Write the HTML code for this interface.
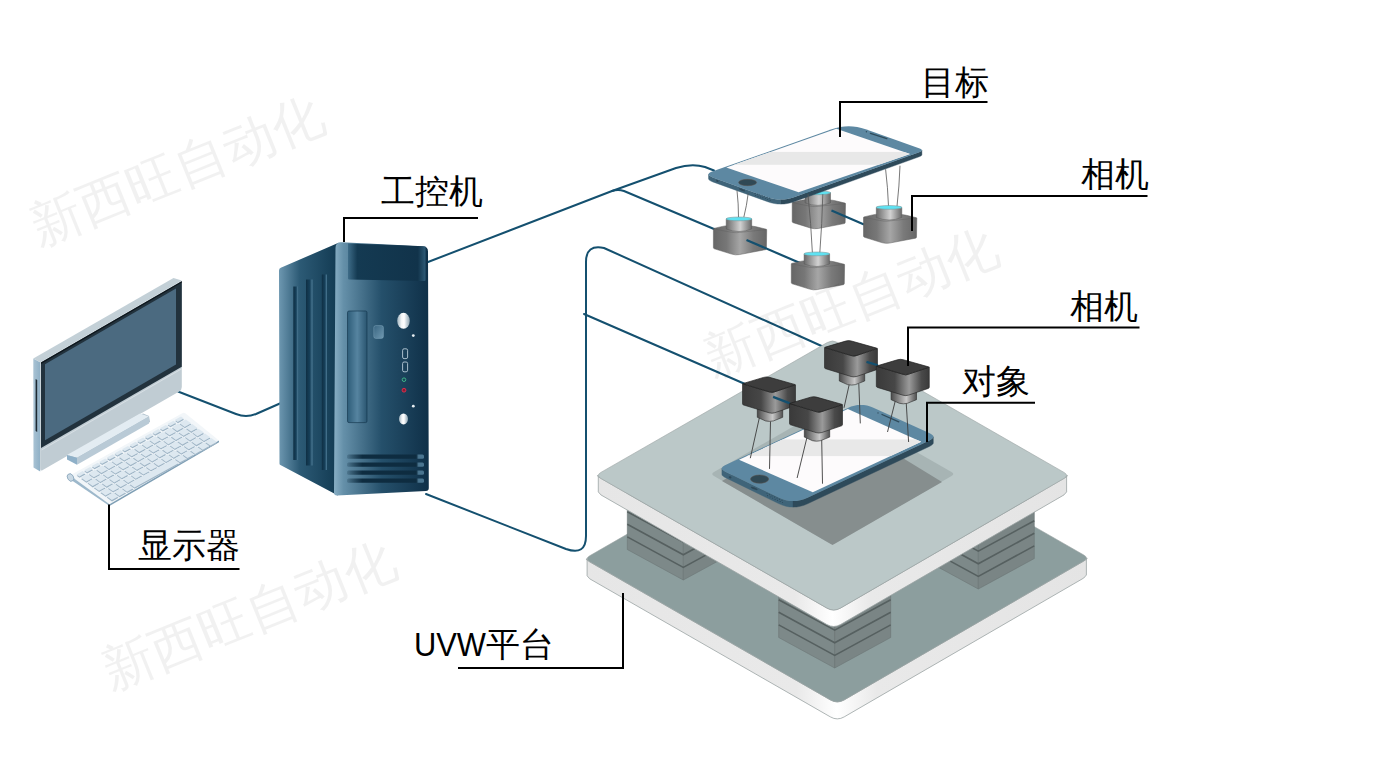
<!DOCTYPE html><html><head><meta charset="utf-8"><style>html,body{margin:0;padding:0;background:#fff;overflow:hidden;}svg{display:block}text{font-family:"Liberation Sans",sans-serif}</style></head><body><svg width="1400" height="771" viewBox="0 0 1400 771"><defs><linearGradient id="cbody" x1="0" y1="0" x2="1" y2="0"><stop offset="0" stop-color="#666"/><stop offset="0.25" stop-color="#777"/><stop offset="0.5" stop-color="#a6a6a6"/><stop offset="0.75" stop-color="#7a7a7a"/><stop offset="1" stop-color="#666"/></linearGradient>
<linearGradient id="clens" x1="0" y1="0" x2="1" y2="0"><stop offset="0" stop-color="#6a6a6a"/><stop offset="0.55" stop-color="#d2d2d2"/><stop offset="1" stop-color="#686868"/></linearGradient>
<linearGradient id="dbody" x1="0" y1="0" x2="1" y2="0"><stop offset="0" stop-color="#3a3a3a"/><stop offset="0.35" stop-color="#474747"/><stop offset="0.62" stop-color="#9a9a9a"/><stop offset="0.85" stop-color="#4a4a4a"/><stop offset="1" stop-color="#3a3a3a"/></linearGradient>
<linearGradient id="dlens" x1="0" y1="0" x2="1" y2="0"><stop offset="0" stop-color="#4a4a4a"/><stop offset="0.6" stop-color="#c8c8c8"/><stop offset="1" stop-color="#505050"/></linearGradient><linearGradient id="monside" x1="0" y1="0" x2="1" y2="0"><stop offset="0" stop-color="#a9c3d4"/><stop offset="1" stop-color="#8fb0c6"/></linearGradient><linearGradient id="tside" x1="0" y1="0" x2="1" y2="0"><stop offset="0" stop-color="#6d97b0"/><stop offset="0.35" stop-color="#2c5a75"/><stop offset="1" stop-color="#123a52"/></linearGradient>
<linearGradient id="tfront" x1="0" y1="0" x2="1" y2="0"><stop offset="0" stop-color="#88aec4"/><stop offset="0.1" stop-color="#6590a9"/><stop offset="0.5" stop-color="#25506b"/><stop offset="1" stop-color="#0f3048"/></linearGradient>
<linearGradient id="tbay" x1="0" y1="0" x2="1" y2="0"><stop offset="0" stop-color="#3e6c88"/><stop offset="0.12" stop-color="#143a52"/><stop offset="0.9" stop-color="#11334a"/><stop offset="1" stop-color="#2e5a76"/></linearGradient>
<linearGradient id="tdrive" x1="0" y1="0" x2="1" y2="0"><stop offset="0" stop-color="#2e5d79"/><stop offset="0.5" stop-color="#5684a0"/><stop offset="1" stop-color="#2a5570"/></linearGradient>
<linearGradient id="tslot" x1="0" y1="0" x2="1" y2="0"><stop offset="0" stop-color="#0f2f44"/><stop offset="0.6" stop-color="#16405a"/><stop offset="1" stop-color="#4f7d98"/></linearGradient>
<linearGradient id="tsq" x1="0" y1="0" x2="1" y2="1"><stop offset="0" stop-color="#3a6682"/><stop offset="1" stop-color="#6f98b0"/></linearGradient>
<linearGradient id="tbtn" x1="0" y1="0" x2="1" y2="0"><stop offset="0" stop-color="#9fb3bf"/><stop offset="0.35" stop-color="#f4f7f8"/><stop offset="0.55" stop-color="#ffffff"/><stop offset="0.75" stop-color="#c9d5dc"/><stop offset="1" stop-color="#8ea3b0"/></linearGradient>
<linearGradient id="tvent" x1="0" y1="0" x2="1" y2="0"><stop offset="0" stop-color="#0e2c40" stop-opacity="0.2"/><stop offset="0.2" stop-color="#0e2c40"/><stop offset="0.9" stop-color="#0e2c40"/><stop offset="0.93" stop-color="#4a7590"/><stop offset="1" stop-color="#4a7590"/></linearGradient><linearGradient id="sideg" x1="0" y1="0" x2="1" y2="0">
<stop offset="0" stop-color="#e6e6e6"/><stop offset="0.42" stop-color="#e9e9e9"/><stop offset="0.5" stop-color="#ffffff"/><stop offset="0.58" stop-color="#e9e9e9"/><stop offset="1" stop-color="#e4e4e4"/></linearGradient></defs><g fill="none" stroke="#14506f" stroke-width="2" stroke-linecap="round" stroke-linejoin="round"><path d="M178,391.5 L236,414 Q246,418 256,414 L281,403"/><path d="M428,262 L612,191 Q618,189 624,191 L714,229"/><path d="M612,191 L676,168 Q692,163 705,167 L714,170.5"/><path d="M426,494 L566,549 Q586,556 586,536 L586,262 Q586,244 604,248 L826,348"/><path d="M584,314 L745,384"/></g><path d="M66.0,454.0 L143.0,413.5 L149.0,416.0 L150.0,422.0 L80.0,462.0Z" fill="#aebfcb"/><path d="M33.3,358.6 L40.2,362.3 L40.2,471.5 L33.5,467.5Z" fill="url(#monside)"/><path d="M35.6,379.0 L37.2,380.0 L37.2,432.0 L35.6,431.0Z" fill="#1d2a33"/><path d="M33.3,358.6 L173.5,278.0 L181.8,280.5 L40.2,362.3Z" fill="#c3d0d7"/><path d="M40.2,362.3L180.5,281.3Q181.8,280.5 181.8,282.0L181.8,387.0Q181.8,390.0 179.2,391.5L42.8,470.1Q40.2,471.6 40.2,468.6Z" fill="#c0ccd3"/><path d="M41.0,362.6 L181.8,281.2 L181.8,366.8 L41.0,448.0Z" fill="#22323d"/><path d="M41.0,362.6 L181.8,281.2 L181.8,282.6 L41.0,364.0Z" fill="#0e161c"/><path d="M45.0,364.3 L176.0,288.6 L176.0,364.5 L45.0,440.2Z" fill="#4b6a80"/><path d="M41.5,449.5 L181.8,368.3 L181.8,369.3 L41.5,450.5Z" fill="#e2e8ec" opacity="0.7"/><path d="M67.0,455.0 L140.0,413.5 L149.0,416.5 L77.0,457.8Z" fill="#e3ecf2"/><path d="M77.0,457.8 L149.0,416.5 L149.0,423.5 L77.0,464.8Z" fill="#b9cad6"/><path d="M67.0,455.0 L77.0,457.8 L77.0,464.8 L67.0,459.5Z" fill="#8fb0c8"/><path d="M72.4,477.3Q70.0,475.5 72.6,474.0L182.3,413.3Q184.0,412.3 185.6,413.6L217.4,439.3Q219.0,440.6 217.3,441.6L111.2,503.3Q109.5,504.3 107.9,503.1Z" fill="#f2f6f9"/><path d="M109.5,504.3 L219.0,440.6 L219.0,442.2 L109.5,505.9Z" fill="#7f9fb5"/><path d="M70.0,475.5 L109.5,504.3 L109.5,505.9 L69.0,478.5Z" fill="#9db8cb"/><path d="M76.7,475.7 L82.8,472.4 L85.6,474.4 L79.5,477.7Z" fill="#9fb5c6"/><path d="M76.5,474.4 L82.6,471.1 L85.4,473.1 L79.3,476.4Z" fill="#dde8f0"/><path d="M84.3,471.5 L90.4,468.2 L93.1,470.2 L87.1,473.5Z" fill="#9fb5c6"/><path d="M84.1,470.2 L90.2,466.9 L92.9,468.9 L86.9,472.2Z" fill="#dde8f0"/><path d="M91.9,467.3 L97.9,464.0 L100.7,466.0 L94.6,469.3Z" fill="#9fb5c6"/><path d="M91.7,466.0 L97.7,462.7 L100.5,464.7 L94.4,468.0Z" fill="#dde8f0"/><path d="M99.5,463.1 L105.5,459.8 L108.3,461.8 L102.2,465.1Z" fill="#9fb5c6"/><path d="M99.3,461.8 L105.3,458.5 L108.1,460.5 L102.0,463.8Z" fill="#dde8f0"/><path d="M107.0,458.9 L113.1,455.6 L115.8,457.6 L109.8,460.9Z" fill="#9fb5c6"/><path d="M106.8,457.6 L112.9,454.3 L115.6,456.3 L109.6,459.6Z" fill="#dde8f0"/><path d="M114.6,454.7 L120.7,451.4 L123.4,453.4 L117.4,456.7Z" fill="#9fb5c6"/><path d="M114.4,453.4 L120.5,450.1 L123.2,452.1 L117.2,455.4Z" fill="#dde8f0"/><path d="M122.2,450.5 L128.2,447.2 L131.0,449.2 L124.9,452.5Z" fill="#9fb5c6"/><path d="M122.0,449.2 L128.0,445.9 L130.8,447.9 L124.7,451.2Z" fill="#dde8f0"/><path d="M129.7,446.3 L135.8,443.0 L138.6,445.0 L132.5,448.3Z" fill="#9fb5c6"/><path d="M129.5,445.0 L135.6,441.7 L138.4,443.7 L132.3,447.0Z" fill="#dde8f0"/><path d="M137.3,442.1 L143.4,438.8 L146.1,440.8 L140.1,444.1Z" fill="#9fb5c6"/><path d="M137.1,440.8 L143.2,437.5 L145.9,439.5 L139.9,442.8Z" fill="#dde8f0"/><path d="M144.9,437.9 L150.9,434.6 L153.7,436.6 L147.7,439.9Z" fill="#9fb5c6"/><path d="M144.7,436.6 L150.7,433.3 L153.5,435.3 L147.5,438.6Z" fill="#dde8f0"/><path d="M152.5,433.7 L158.5,430.4 L161.3,432.4 L155.2,435.7Z" fill="#9fb5c6"/><path d="M152.3,432.4 L158.3,429.1 L161.1,431.1 L155.0,434.4Z" fill="#dde8f0"/><path d="M160.0,429.5 L166.1,426.2 L168.9,428.2 L162.8,431.5Z" fill="#9fb5c6"/><path d="M159.8,428.2 L165.9,424.9 L168.7,426.9 L162.6,430.2Z" fill="#dde8f0"/><path d="M167.6,425.3 L173.7,422.0 L176.4,424.0 L170.4,427.3Z" fill="#9fb5c6"/><path d="M167.4,424.0 L173.5,420.7 L176.2,422.7 L170.2,426.0Z" fill="#dde8f0"/><path d="M175.2,421.1 L181.2,417.8 L184.0,419.8 L177.9,423.2Z" fill="#9fb5c6"/><path d="M175.0,419.8 L181.0,416.5 L183.8,418.5 L177.7,421.9Z" fill="#dde8f0"/><path d="M81.1,478.9 L87.6,475.3 L92.9,479.2 L86.4,482.8Z" fill="#9fb5c6"/><path d="M80.9,477.6 L87.4,474.0 L92.7,477.9 L86.2,481.5Z" fill="#dde8f0"/><path d="M88.7,474.7 L95.2,471.1 L100.5,475.0 L94.0,478.6Z" fill="#9fb5c6"/><path d="M88.5,473.4 L95.0,469.8 L100.3,473.7 L93.8,477.3Z" fill="#dde8f0"/><path d="M96.2,470.5 L102.7,466.9 L108.1,470.8 L101.6,474.4Z" fill="#9fb5c6"/><path d="M96.0,469.2 L102.5,465.6 L107.9,469.5 L101.4,473.1Z" fill="#dde8f0"/><path d="M103.8,466.3 L110.3,462.7 L115.6,466.6 L109.1,470.2Z" fill="#9fb5c6"/><path d="M103.6,465.0 L110.1,461.4 L115.4,465.3 L108.9,468.9Z" fill="#dde8f0"/><path d="M111.4,462.1 L117.9,458.5 L123.2,462.4 L116.7,466.0Z" fill="#9fb5c6"/><path d="M111.2,460.8 L117.7,457.2 L123.0,461.1 L116.5,464.7Z" fill="#dde8f0"/><path d="M118.9,457.9 L125.5,454.3 L130.8,458.2 L124.3,461.8Z" fill="#9fb5c6"/><path d="M118.7,456.6 L125.3,453.0 L130.6,456.9 L124.1,460.5Z" fill="#dde8f0"/><path d="M126.5,453.7 L133.0,450.1 L138.4,454.0 L131.8,457.6Z" fill="#9fb5c6"/><path d="M126.3,452.4 L132.8,448.8 L138.2,452.7 L131.6,456.3Z" fill="#dde8f0"/><path d="M134.1,449.5 L140.6,445.9 L145.9,449.8 L139.4,453.4Z" fill="#9fb5c6"/><path d="M133.9,448.2 L140.4,444.6 L145.7,448.5 L139.2,452.1Z" fill="#dde8f0"/><path d="M141.7,445.3 L148.2,441.7 L153.5,445.6 L147.0,449.2Z" fill="#9fb5c6"/><path d="M141.5,444.0 L148.0,440.4 L153.3,444.3 L146.8,447.9Z" fill="#dde8f0"/><path d="M149.2,441.1 L155.7,437.5 L161.1,441.4 L154.6,445.0Z" fill="#9fb5c6"/><path d="M149.0,439.8 L155.5,436.2 L160.9,440.1 L154.4,443.7Z" fill="#dde8f0"/><path d="M156.8,436.9 L163.3,433.3 L168.7,437.2 L162.1,440.8Z" fill="#9fb5c6"/><path d="M156.6,435.6 L163.1,432.0 L168.5,435.9 L161.9,439.5Z" fill="#dde8f0"/><path d="M164.4,432.7 L170.9,429.1 L176.2,433.0 L169.7,436.6Z" fill="#9fb5c6"/><path d="M164.2,431.4 L170.7,427.8 L176.0,431.7 L169.5,435.3Z" fill="#dde8f0"/><path d="M172.0,428.5 L178.5,424.9 L183.8,428.8 L177.3,432.4Z" fill="#9fb5c6"/><path d="M171.8,427.2 L178.3,423.6 L183.6,427.5 L177.1,431.1Z" fill="#dde8f0"/><path d="M179.5,424.3 L186.0,420.7 L191.4,424.6 L184.9,428.2Z" fill="#9fb5c6"/><path d="M179.3,423.0 L185.8,419.4 L191.2,423.3 L184.7,426.9Z" fill="#dde8f0"/><path d="M87.5,483.5 L94.0,479.9 L99.3,483.8 L92.8,487.4Z" fill="#9fb5c6"/><path d="M87.3,482.2 L93.8,478.6 L99.1,482.5 L92.6,486.1Z" fill="#dde8f0"/><path d="M95.1,479.3 L101.6,475.7 L106.9,479.6 L100.4,483.2Z" fill="#9fb5c6"/><path d="M94.9,478.0 L101.4,474.4 L106.7,478.3 L100.2,481.9Z" fill="#dde8f0"/><path d="M102.6,475.1 L109.1,471.5 L114.5,475.4 L108.0,479.0Z" fill="#9fb5c6"/><path d="M102.4,473.8 L108.9,470.2 L114.3,474.1 L107.8,477.7Z" fill="#dde8f0"/><path d="M110.2,471.0 L116.7,467.3 L122.0,471.2 L115.5,474.8Z" fill="#9fb5c6"/><path d="M110.0,469.7 L116.5,466.0 L121.8,469.9 L115.3,473.5Z" fill="#dde8f0"/><path d="M117.8,466.8 L124.3,463.1 L129.6,467.0 L123.1,470.6Z" fill="#9fb5c6"/><path d="M117.6,465.5 L124.1,461.8 L129.4,465.7 L122.9,469.3Z" fill="#dde8f0"/><path d="M125.3,462.6 L131.9,458.9 L137.2,462.8 L130.7,466.4Z" fill="#9fb5c6"/><path d="M125.1,461.3 L131.7,457.6 L137.0,461.5 L130.5,465.1Z" fill="#dde8f0"/><path d="M132.9,458.4 L139.4,454.7 L144.8,458.6 L138.2,462.2Z" fill="#9fb5c6"/><path d="M132.7,457.1 L139.2,453.4 L144.6,457.3 L138.0,460.9Z" fill="#dde8f0"/><path d="M140.5,454.2 L147.0,450.5 L152.3,454.4 L145.8,458.0Z" fill="#9fb5c6"/><path d="M140.3,452.9 L146.8,449.2 L152.1,453.1 L145.6,456.7Z" fill="#dde8f0"/><path d="M148.1,450.0 L154.6,446.3 L159.9,450.2 L153.4,453.8Z" fill="#9fb5c6"/><path d="M147.9,448.7 L154.4,445.0 L159.7,448.9 L153.2,452.5Z" fill="#dde8f0"/><path d="M155.6,445.8 L162.1,442.2 L167.5,446.0 L161.0,449.6Z" fill="#9fb5c6"/><path d="M155.4,444.5 L161.9,440.9 L167.3,444.7 L160.8,448.3Z" fill="#dde8f0"/><path d="M163.2,441.6 L169.7,438.0 L175.1,441.8 L168.5,445.5Z" fill="#9fb5c6"/><path d="M163.0,440.3 L169.5,436.7 L174.9,440.5 L168.3,444.2Z" fill="#dde8f0"/><path d="M170.8,437.4 L177.3,433.8 L182.6,437.6 L176.1,441.3Z" fill="#9fb5c6"/><path d="M170.6,436.1 L177.1,432.5 L182.4,436.3 L175.9,440.0Z" fill="#dde8f0"/><path d="M178.4,433.2 L184.9,429.6 L190.2,433.4 L183.7,437.1Z" fill="#9fb5c6"/><path d="M178.2,431.9 L184.7,428.3 L190.0,432.1 L183.5,435.8Z" fill="#dde8f0"/><path d="M185.9,429.0 L192.4,425.4 L197.8,429.2 L191.3,432.9Z" fill="#9fb5c6"/><path d="M185.7,427.7 L192.2,424.1 L197.6,427.9 L191.1,431.6Z" fill="#dde8f0"/><path d="M93.9,488.2 L100.4,484.6 L105.7,488.5 L99.2,492.1Z" fill="#9fb5c6"/><path d="M93.7,486.9 L100.2,483.3 L105.5,487.2 L99.0,490.8Z" fill="#dde8f0"/><path d="M101.5,484.0 L108.0,480.4 L113.3,484.3 L106.8,487.9Z" fill="#9fb5c6"/><path d="M101.3,482.7 L107.8,479.1 L113.1,483.0 L106.6,486.6Z" fill="#dde8f0"/><path d="M109.0,479.8 L115.5,476.2 L120.9,480.1 L114.4,483.7Z" fill="#9fb5c6"/><path d="M108.8,478.5 L115.3,474.9 L120.7,478.8 L114.2,482.4Z" fill="#dde8f0"/><path d="M116.6,475.6 L123.1,472.0 L128.4,475.9 L121.9,479.5Z" fill="#9fb5c6"/><path d="M116.4,474.3 L122.9,470.7 L128.2,474.6 L121.7,478.2Z" fill="#dde8f0"/><path d="M124.2,471.4 L130.7,467.8 L136.0,471.7 L129.5,475.3Z" fill="#9fb5c6"/><path d="M124.0,470.1 L130.5,466.5 L135.8,470.4 L129.3,474.0Z" fill="#dde8f0"/><path d="M131.7,467.2 L138.3,463.6 L143.6,467.5 L137.1,471.1Z" fill="#9fb5c6"/><path d="M131.5,465.9 L138.1,462.3 L143.4,466.2 L136.9,469.8Z" fill="#dde8f0"/><path d="M139.3,463.0 L145.8,459.4 L151.2,463.3 L144.6,466.9Z" fill="#9fb5c6"/><path d="M139.1,461.7 L145.6,458.1 L151.0,462.0 L144.4,465.6Z" fill="#dde8f0"/><path d="M146.9,458.8 L153.4,455.2 L158.7,459.1 L152.2,462.7Z" fill="#9fb5c6"/><path d="M146.7,457.5 L153.2,453.9 L158.5,457.8 L152.0,461.4Z" fill="#dde8f0"/><path d="M154.5,454.6 L161.0,451.0 L166.3,454.9 L159.8,458.5Z" fill="#9fb5c6"/><path d="M154.3,453.3 L160.8,449.7 L166.1,453.6 L159.6,457.2Z" fill="#dde8f0"/><path d="M162.0,450.4 L168.5,446.8 L173.9,450.7 L167.4,454.3Z" fill="#9fb5c6"/><path d="M161.8,449.1 L168.3,445.5 L173.7,449.4 L167.2,453.0Z" fill="#dde8f0"/><path d="M169.6,446.2 L176.1,442.6 L181.5,446.5 L174.9,450.1Z" fill="#9fb5c6"/><path d="M169.4,444.9 L175.9,441.3 L181.3,445.2 L174.7,448.8Z" fill="#dde8f0"/><path d="M177.2,442.0 L183.7,438.4 L189.0,442.3 L182.5,445.9Z" fill="#9fb5c6"/><path d="M177.0,440.7 L183.5,437.1 L188.8,441.0 L182.3,444.6Z" fill="#dde8f0"/><path d="M184.8,437.8 L191.3,434.2 L196.6,438.1 L190.1,441.7Z" fill="#9fb5c6"/><path d="M184.6,436.5 L191.1,432.9 L196.4,436.8 L189.9,440.4Z" fill="#dde8f0"/><path d="M192.3,433.6 L198.8,430.0 L204.2,433.9 L197.7,437.5Z" fill="#9fb5c6"/><path d="M192.1,432.3 L198.6,428.7 L204.0,432.6 L197.5,436.2Z" fill="#dde8f0"/><path d="M100.3,492.9 L106.8,489.3 L112.1,493.2 L105.6,496.8Z" fill="#9fb5c6"/><path d="M100.1,491.6 L106.6,488.0 L111.9,491.9 L105.4,495.5Z" fill="#dde8f0"/><path d="M107.8,488.7 L114.4,485.1 L119.7,489.0 L113.2,492.6Z" fill="#9fb5c6"/><path d="M107.6,487.4 L114.2,483.8 L119.5,487.7 L113.0,491.3Z" fill="#dde8f0"/><path d="M115.4,484.5 L121.9,480.9 L127.3,484.8 L120.8,488.4Z" fill="#9fb5c6"/><path d="M115.2,483.2 L121.7,479.6 L127.1,483.5 L120.6,487.1Z" fill="#dde8f0"/><path d="M123.0,480.3 L129.5,476.7 L134.8,480.6 L128.3,484.2Z" fill="#9fb5c6"/><path d="M122.8,479.0 L129.3,475.4 L134.6,479.3 L128.1,482.9Z" fill="#dde8f0"/><path d="M130.6,476.1 L137.1,472.5 L142.4,476.4 L135.9,480.0Z" fill="#9fb5c6"/><path d="M130.4,474.8 L136.9,471.2 L142.2,475.1 L135.7,478.7Z" fill="#dde8f0"/><path d="M138.1,471.9 L144.7,468.3 L150.0,472.2 L143.5,475.8Z" fill="#9fb5c6"/><path d="M137.9,470.6 L144.5,467.0 L149.8,470.9 L143.3,474.5Z" fill="#dde8f0"/><path d="M145.7,467.7 L152.2,464.1 L157.6,468.0 L151.0,471.6Z" fill="#9fb5c6"/><path d="M145.5,466.4 L152.0,462.8 L157.4,466.7 L150.8,470.3Z" fill="#dde8f0"/><path d="M153.3,463.5 L159.8,459.9 L165.1,463.8 L158.6,467.4Z" fill="#9fb5c6"/><path d="M153.1,462.2 L159.6,458.6 L164.9,462.5 L158.4,466.1Z" fill="#dde8f0"/><path d="M160.9,459.3 L167.4,455.7 L172.7,459.6 L166.2,463.2Z" fill="#9fb5c6"/><path d="M160.7,458.0 L167.2,454.4 L172.5,458.3 L166.0,461.9Z" fill="#dde8f0"/><path d="M168.4,455.1 L174.9,451.5 L180.3,455.4 L173.8,459.0Z" fill="#9fb5c6"/><path d="M168.2,453.8 L174.7,450.2 L180.1,454.1 L173.6,457.7Z" fill="#dde8f0"/><path d="M176.0,450.9 L182.5,447.3 L187.9,451.2 L181.3,454.8Z" fill="#9fb5c6"/><path d="M175.8,449.6 L182.3,446.0 L187.7,449.9 L181.1,453.5Z" fill="#dde8f0"/><path d="M183.6,446.7 L190.1,443.1 L195.4,447.0 L188.9,450.6Z" fill="#9fb5c6"/><path d="M183.4,445.4 L189.9,441.8 L195.2,445.7 L188.7,449.3Z" fill="#dde8f0"/><path d="M191.2,442.5 L197.7,438.9 L203.0,442.8 L196.5,446.4Z" fill="#9fb5c6"/><path d="M191.0,441.2 L197.5,437.6 L202.8,441.5 L196.3,445.1Z" fill="#dde8f0"/><path d="M198.7,438.3 L205.2,434.7 L210.6,438.6 L204.1,442.2Z" fill="#9fb5c6"/><path d="M198.5,437.0 L205.0,433.4 L210.4,437.3 L203.9,440.9Z" fill="#dde8f0"/><path d="M106.7,497.5 L113.2,493.9 L118.5,497.8 L112.0,501.4Z" fill="#9fb5c6"/><path d="M106.5,496.2 L113.0,492.6 L118.3,496.5 L111.8,500.1Z" fill="#dde8f0"/><path d="M114.2,493.3 L120.8,489.7 L126.1,493.6 L119.6,497.2Z" fill="#9fb5c6"/><path d="M114.0,492.0 L120.6,488.4 L125.9,492.3 L119.4,495.9Z" fill="#dde8f0"/><path d="M121.8,489.1 L128.3,485.5 L133.7,489.4 L127.2,493.0Z" fill="#9fb5c6"/><path d="M121.6,487.8 L128.1,484.2 L133.5,488.1 L127.0,491.7Z" fill="#dde8f0"/><path d="M129.4,484.9 L173.8,460.3 L179.1,464.2 L134.7,488.8Z" fill="#9fb5c6"/><path d="M129.2,483.6 L173.6,459.0 L178.9,462.9 L134.5,487.5Z" fill="#dde8f0"/><path d="M174.8,459.8 L181.3,456.1 L186.7,460.0 L180.2,463.6Z" fill="#9fb5c6"/><path d="M174.6,458.5 L181.1,454.8 L186.5,458.7 L180.0,462.3Z" fill="#dde8f0"/><path d="M182.4,455.6 L188.9,451.9 L194.2,455.8 L187.7,459.4Z" fill="#9fb5c6"/><path d="M182.2,454.3 L188.7,450.6 L194.0,454.5 L187.5,458.1Z" fill="#dde8f0"/><path d="M190.0,451.4 L196.5,447.8 L201.8,451.6 L195.3,455.2Z" fill="#9fb5c6"/><path d="M189.8,450.1 L196.3,446.5 L201.6,450.3 L195.1,453.9Z" fill="#dde8f0"/><path d="M197.6,447.2 L204.1,443.6 L209.4,447.4 L202.9,451.1Z" fill="#9fb5c6"/><path d="M197.4,445.9 L203.9,442.3 L209.2,446.1 L202.7,449.8Z" fill="#dde8f0"/><path d="M205.1,443.0 L211.6,439.4 L217.0,443.2 L210.5,446.9Z" fill="#9fb5c6"/><path d="M204.9,441.7 L211.4,438.1 L216.8,441.9 L210.3,445.6Z" fill="#dde8f0"/><ellipse cx="70.5" cy="477.5" rx="3" ry="4" fill="#c9d8e3" stroke="#7f9fb5" stroke-width="0.7" transform="rotate(-30 70.5 477.5)"/><path d="M279.0,270.6Q279.0,268.6 280.8,267.8L338.0,243.0L338.0,495.5L280.4,465.0Q279.5,464.5 279.5,463.5Z" fill="url(#tside)"/><rect x="293.3" y="286.5" width="4.699999999999989" height="173.5" fill="url(#tslot)"/><rect x="306" y="279.5" width="6.5" height="186.0" fill="url(#tslot)"/><rect x="321.8" y="274.5" width="5.199999999999989" height="195.5" fill="url(#tslot)"/><path d="M335.5,248.0Q335.5,242.0 341.5,242.3L423.0,246.3Q428.0,246.5 428.0,251.5L428.8,488.0Q428.8,491.0 425.8,491.1L337.0,495.4Q334.0,495.5 334.0,492.5Z" fill="url(#tfront)"/><path d="M348.0,243.5L425.5,246.5L425.5,280.0Q425.5,281.0 424.5,281.0L349.0,279.5Q348.0,279.5 348.0,278.5Z" fill="url(#tbay)"/><rect x="347.5" y="311" width="19.5" height="111.6" rx="1.5" fill="url(#tdrive)" stroke="#0f3048" stroke-width="0.6"/><rect x="373.8" y="325.6" width="9.6" height="12.8" rx="2" fill="url(#tsq)" stroke="#7fa4ba" stroke-width="0.5"/><ellipse cx="403.5" cy="320.8" rx="6.3" ry="8" fill="url(#tbtn)"/><ellipse cx="403.5" cy="418.9" rx="4.5" ry="5.5" fill="url(#tbtn)"/><circle cx="413.3" cy="335.6" r="1.4" fill="#e8eef2"/><circle cx="413.3" cy="406.2" r="1.4" fill="#e8eef2"/><rect x="402.6" y="348.8" width="5" height="9.8" rx="1.5" fill="none" stroke="#b9ccd8" stroke-width="0.9"/><rect x="402.6" y="362" width="5" height="9.8" rx="1.5" fill="none" stroke="#b9ccd8" stroke-width="0.9"/><circle cx="404" cy="379.7" r="1.8" fill="none" stroke="#3fbf8a" stroke-width="0.9"/><circle cx="404" cy="390.2" r="1.9" fill="#8a1c33" stroke="#e0304f" stroke-width="0.9"/><rect x="347" y="454.5" width="77" height="4.2" rx="1.5" fill="url(#tvent)"/><rect x="347" y="462.5" width="77" height="4.2" rx="1.5" fill="url(#tvent)"/><rect x="347" y="470.5" width="77" height="4.2" rx="1.5" fill="url(#tvent)"/><rect x="347" y="478.5" width="77" height="4.2" rx="1.5" fill="url(#tvent)"/><path d="M587.1,558.8 Q584.5,558.8 589.7,561.8 L830.4,699.9 Q837.3,703.9 844.2,699.9 L1083.8,561.0 Q1089.0,558.0 1086.4,558.0 L1086.4,575.0 L1083.8,578.0 L844.2,716.9 Q837.3,720.9 830.4,716.9 L589.7,578.8 L587.1,575.8 Z" fill="url(#sideg)" stroke="#9aa3a3" stroke-width="0.8"/><path d="M589.7,561.8Q584.5,558.8 589.7,555.8L831.6,416.5Q836.8,413.5 842.0,416.5L1083.8,555.0Q1089.0,558.0 1083.8,561.0L844.2,699.9Q837.3,703.9 830.4,699.9Z" fill="#8c9e9e" stroke="#9aa3a3" stroke-width="0.6"/><path d="M627.3,549.5 L683.3,580.0 L683.3,500.0 L627.3,469.5Z" fill="#7d8989" stroke="#6b7575" stroke-width="0.6"/><path d="M683.3,580.0 L739.3,549.5 L739.3,469.5 L683.3,500.0Z" fill="#7a8585" stroke="#6b7575" stroke-width="0.6"/><path d="M627.3,536.9 L683.3,567.4 L739.3,536.9" fill="none" stroke="#566060" stroke-width="1.6"/><path d="M627.3,524.3 L683.3,554.8 L739.3,524.3" fill="none" stroke="#566060" stroke-width="1.6"/><path d="M627.3,511.7 L683.3,542.2 L739.3,511.7" fill="none" stroke="#566060" stroke-width="1.6"/><path d="M627.3,499.1 L683.3,529.6 L739.3,499.1" fill="none" stroke="#566060" stroke-width="1.6"/><path d="M627.3,486.5 L683.3,517.0 L739.3,486.5" fill="none" stroke="#566060" stroke-width="1.6"/><path d="M778.7,637.5 L834.7,668.0 L834.7,588.0 L778.7,557.5Z" fill="#7d8989" stroke="#6b7575" stroke-width="0.6"/><path d="M834.7,668.0 L890.7,637.5 L890.7,557.5 L834.7,588.0Z" fill="#7a8585" stroke="#6b7575" stroke-width="0.6"/><path d="M778.7,624.9 L834.7,655.4 L890.7,624.9" fill="none" stroke="#566060" stroke-width="1.6"/><path d="M778.7,612.3 L834.7,642.8 L890.7,612.3" fill="none" stroke="#566060" stroke-width="1.6"/><path d="M778.7,599.7 L834.7,630.2 L890.7,599.7" fill="none" stroke="#566060" stroke-width="1.6"/><path d="M778.7,587.1 L834.7,617.6 L890.7,587.1" fill="none" stroke="#566060" stroke-width="1.6"/><path d="M778.7,574.5 L834.7,605.0 L890.7,574.5" fill="none" stroke="#566060" stroke-width="1.6"/><path d="M922.3,558.5 L978.3,589.0 L978.3,509.0 L922.3,478.5Z" fill="#7d8989" stroke="#6b7575" stroke-width="0.6"/><path d="M978.3,589.0 L1034.3,558.5 L1034.3,478.5 L978.3,509.0Z" fill="#7a8585" stroke="#6b7575" stroke-width="0.6"/><path d="M922.3,545.9 L978.3,576.4 L1034.3,545.9" fill="none" stroke="#566060" stroke-width="1.6"/><path d="M922.3,533.3 L978.3,563.8 L1034.3,533.3" fill="none" stroke="#566060" stroke-width="1.6"/><path d="M922.3,520.7 L978.3,551.2 L1034.3,520.7" fill="none" stroke="#566060" stroke-width="1.6"/><path d="M922.3,508.1 L978.3,538.6 L1034.3,508.1" fill="none" stroke="#566060" stroke-width="1.6"/><path d="M922.3,495.5 L978.3,526.0 L1034.3,495.5" fill="none" stroke="#566060" stroke-width="1.6"/><path d="M778.7,469.5 L834.7,500.0 L834.7,420.0 L778.7,389.5Z" fill="#7d8989" stroke="#6b7575" stroke-width="0.6"/><path d="M834.7,500.0 L890.7,469.5 L890.7,389.5 L834.7,420.0Z" fill="#7a8585" stroke="#6b7575" stroke-width="0.6"/><path d="M778.7,456.9 L834.7,487.4 L890.7,456.9" fill="none" stroke="#566060" stroke-width="1.6"/><path d="M778.7,444.3 L834.7,474.8 L890.7,444.3" fill="none" stroke="#566060" stroke-width="1.6"/><path d="M778.7,431.7 L834.7,462.2 L890.7,431.7" fill="none" stroke="#566060" stroke-width="1.6"/><path d="M778.7,419.1 L834.7,449.6 L890.7,419.1" fill="none" stroke="#566060" stroke-width="1.6"/><path d="M778.7,406.5 L834.7,437.0 L890.7,406.5" fill="none" stroke="#566060" stroke-width="1.6"/><path d="M598.3,475.4 Q595.7,475.4 600.9,478.4 L826.8,608.0 Q833.7,612.0 840.6,608.0 L1064.0,478.4 Q1069.2,475.4 1066.6,475.4 L1066.6,491.9 L1064.0,494.9 L840.6,624.5 Q833.7,628.5 826.8,624.5 L600.9,494.9 L598.3,491.9 Z" fill="url(#sideg)" stroke="#9aa3a3" stroke-width="0.8"/><path d="M600.9,478.4Q595.7,475.4 600.9,472.4L827.3,342.5Q832.5,339.5 837.7,342.5L1064.0,472.4Q1069.2,475.4 1064.0,478.4L840.6,608.0Q833.7,612.0 826.8,608.0Z" fill="#bbc8c8" stroke="#9aa3a3" stroke-width="0.6"/><path d="M714.0,476.0Q710.5,474.0 714.0,472.0L829.0,406.0Q832.5,404.0 836.0,406.0L951.5,472.0Q955.0,474.0 951.5,476.0L836.0,543.0Q832.5,545.0 829.0,543.0Z" fill="#a7b4b4"/><path d="M722.0,481.0 L834.0,416.0 L942.0,482.0 L832.5,545.0Z" fill="#868e8e"/><path d="M721.9,468.3 L722.0,469.1 L722.6,469.8 L723.6,470.6 L725.0,471.4 L778.6,497.6 L782.2,499.1 L785.8,500.2 L789.4,500.9 L793.0,501.1 L793.0,507.1 L789.4,506.9 L785.8,506.2 L782.2,505.1 L778.6,503.6 L725.0,477.4 L723.6,476.6 L722.6,475.8 L722.0,475.1 L721.9,474.3Z" fill="#3f6479" stroke="#3f6479" stroke-width="0.4"/><path d="M793.0,501.1 L796.6,501.0 L800.2,500.3 L803.9,499.3 L807.5,497.8 L929.3,440.5 L931.0,439.6 L932.3,438.6 L933.1,437.7 L933.3,436.7 L933.3,442.7 L933.1,443.7 L932.3,444.6 L931.0,445.6 L929.3,446.5 L807.5,503.8 L803.9,505.3 L800.2,506.3 L796.6,507.0 L793.0,507.1Z" fill="#2e4a5a" stroke="#2e4a5a" stroke-width="0.4"/><path d="M725.0,471.4 L723.6,470.6 L722.6,469.8 L722.0,469.1 L721.9,468.3 L722.1,467.6 L722.7,466.8 L723.7,466.1 L725.0,465.3 L847.9,407.9 L851.1,406.6 L854.3,405.7 L857.4,405.1 L860.6,404.9 L863.8,405.1 L867.0,405.6 L870.2,406.5 L873.4,407.8 L929.2,433.0 L931.0,433.9 L932.3,434.9 L933.1,435.8 L933.3,436.7 L933.1,437.7 L932.3,438.6 L931.0,439.6 L929.3,440.5 L807.5,497.8 L803.9,499.3 L800.2,500.3 L796.6,501.0 L793.0,501.1 L789.4,500.9 L785.8,500.2 L782.2,499.1 L778.6,497.6Z" fill="#5d88a2"/><ellipse cx="730.1" cy="477.3" rx="1.4" ry="1" fill="#2f4a5a" transform="rotate(22 730.1 477.3)"/><ellipse cx="754.2" cy="488.4" rx="3.6" ry="1" fill="#2f4a5a" transform="rotate(22 754.2 488.4)"/><circle cx="767.0" cy="493.6" r="0.45" fill="#1e3340"/><circle cx="767.6" cy="495.8" r="0.45" fill="#1e3340"/><circle cx="769.5" cy="494.7" r="0.45" fill="#1e3340"/><circle cx="770.1" cy="496.9" r="0.45" fill="#1e3340"/><circle cx="772.0" cy="495.9" r="0.45" fill="#1e3340"/><circle cx="772.6" cy="498.1" r="0.45" fill="#1e3340"/><circle cx="774.5" cy="497.0" r="0.45" fill="#1e3340"/><circle cx="775.1" cy="499.2" r="0.45" fill="#1e3340"/><circle cx="777.0" cy="498.1" r="0.45" fill="#1e3340"/><circle cx="777.6" cy="500.3" r="0.45" fill="#1e3340"/><circle cx="779.5" cy="499.3" r="0.45" fill="#1e3340"/><circle cx="780.1" cy="501.5" r="0.45" fill="#1e3340"/><circle cx="782.0" cy="500.4" r="0.45" fill="#1e3340"/><circle cx="782.6" cy="502.6" r="0.45" fill="#1e3340"/><defs><clipPath id="cliplo"><path d="M739.0,459.8 L847.8,409.0 L921.2,441.8 L812.8,492.2Z"/></clipPath></defs><path d="M739.0,459.8 L847.8,409.0 L921.2,441.8 L812.8,492.2Z" fill="#fdfbfc"/><rect x="718.7" y="439.4" width="218.7" height="16.7" fill="#e8e8e8" clip-path="url(#cliplo)"/><ellipse cx="759.6" cy="479.1" rx="9.1" ry="4.1" fill="#304955" stroke="#5c5048" stroke-width="0.5"/><path d="M882,414.5 L898.8,421.8" stroke="#2f4b5b" stroke-width="1.3" stroke-linecap="round"/><circle cx="878" cy="412.9" r="0.7" fill="#2f4b5b"/><g stroke="#3c3c3c" stroke-width="0.9" fill="none"><path d="M759.3,418 L750.3,458.2"/><path d="M770.5,421.3 L769.5,468.9"/><path d="M806.9,437.7 L797.1,478"/><path d="M821.7,439.4 L822.5,483.7"/><path d="M849.4,383.7 L844,407.8"/><path d="M858.8,383.7 L860.3,423.4"/><path d="M895.3,400.8 L887.5,432"/><path d="M906.2,402.4 L908.6,442"/></g><path d="M839.3,365.4 L864.7,365.4 L864.7,381.0 L855.5,384.6 Q851.5,385.6 847.5,384.6 L839.3,381.0 Z" fill="url(#dlens)" stroke="#2a2a2a" stroke-width="0.6"/><path d="M824.5,347.4L854.0,356.4L877.5,348.4L877.5,368.4Q877.5,369.4 876.6,369.7L856.8,376.4Q854.0,377.4 851.1,376.5L825.5,368.7Q824.5,368.4 824.5,367.4Z" fill="url(#dbody)" stroke="#222" stroke-width="0.6"/><path d="M825.5,347.7Q824.5,347.4 825.5,347.1L845.6,341.1Q848.5,340.2 851.4,341.0L876.5,348.1Q877.5,348.4 876.6,348.7L856.8,355.4Q854.0,356.4 851.1,355.5Z" fill="#3d3d3d" stroke="#1e1e1e" stroke-width="0.7"/><path d="M866.5,361.9 L878,365.3" stroke="#14506f" stroke-width="2.2"/><path d="M891.1,384.1 L916.5,384.1 L916.5,399.7 L907.3,403.3 Q903.3,404.3 899.3,403.3 L891.1,399.7 Z" fill="url(#dlens)" stroke="#2a2a2a" stroke-width="0.6"/><path d="M876.3,366.1L905.8,375.1L929.3,367.1L929.3,387.1Q929.3,388.1 928.4,388.4L908.6,395.1Q905.8,396.1 902.9,395.2L877.3,387.4Q876.3,387.1 876.3,386.1Z" fill="url(#dbody)" stroke="#222" stroke-width="0.6"/><path d="M877.3,366.4Q876.3,366.1 877.3,365.8L897.4,359.8Q900.3,358.9 903.2,359.7L928.3,366.8Q929.3,367.1 928.4,367.4L908.6,374.1Q905.8,375.1 902.9,374.2Z" fill="#3d3d3d" stroke="#1e1e1e" stroke-width="0.7"/><path d="M757.3,401.7 L782.7,401.7 L782.7,417.3 L773.5,420.9 Q769.5,421.9 765.5,420.9 L757.3,417.3 Z" fill="url(#dlens)" stroke="#2a2a2a" stroke-width="0.6"/><path d="M742.5,383.7L772.0,392.7L795.5,384.7L795.5,404.7Q795.5,405.7 794.6,406.0L774.8,412.7Q772.0,413.7 769.1,412.8L743.5,405.0Q742.5,404.7 742.5,403.7Z" fill="url(#dbody)" stroke="#222" stroke-width="0.6"/><path d="M743.5,384.0Q742.5,383.7 743.5,383.4L763.6,377.4Q766.5,376.5 769.4,377.3L794.5,384.4Q795.5,384.7 794.6,385.0L774.8,391.7Q772.0,392.7 769.1,391.8Z" fill="#3d3d3d" stroke="#1e1e1e" stroke-width="0.7"/><path d="M773.1,396.9 L790,403.4" stroke="#14506f" stroke-width="2.2"/><path d="M804.3,421.5 L829.7,421.5 L829.7,437.1 L820.5,440.7 Q816.5,441.7 812.5,440.7 L804.3,437.1 Z" fill="url(#dlens)" stroke="#2a2a2a" stroke-width="0.6"/><path d="M789.5,403.5L819.0,412.5L842.5,404.5L842.5,424.5Q842.5,425.5 841.6,425.8L821.8,432.5Q819.0,433.5 816.1,432.6L790.5,424.8Q789.5,424.5 789.5,423.5Z" fill="url(#dbody)" stroke="#222" stroke-width="0.6"/><path d="M790.5,403.8Q789.5,403.5 790.5,403.2L810.6,397.2Q813.5,396.3 816.4,397.1L841.5,404.2Q842.5,404.5 841.6,404.8L821.8,411.5Q819.0,412.5 816.1,411.6Z" fill="#3d3d3d" stroke="#1e1e1e" stroke-width="0.7"/><path d="M792.2,202.9Q792.2,202.4 792.7,202.3L801.3,200.3Q804.2,199.6 807.2,199.6L829.2,200.0Q832.2,200.0 835.1,200.7L845.0,203.1Q845.5,203.2 845.5,203.7L845.2,222.4Q845.2,223.4 844.2,223.6L818.1,228.5Q814.2,229.2 810.4,228.0L793.2,222.7Q792.2,222.4 792.2,221.4Z" fill="url(#cbody)" stroke="#5a5a5a" stroke-width="0.5"/><path d="M792.7,202.7 Q812.2,206.9 815.2,206.6 Q818.2,206.4 845.2,203.4" fill="none" stroke="#5c5c5c" stroke-width="0.5" opacity="0.8"/><path d="M805.0,192.8 L830.5,192.8 L830.5,202.9 Q817.7,207.9 805.0,202.9 Z" fill="url(#clens)" stroke="#5a5a5a" stroke-width="0.5"/><ellipse cx="817.8" cy="192.8" rx="12.9" ry="1.9" fill="#5fe2f2" stroke="#7a8a8c" stroke-width="0.5"/><path d="M831.5,210.5 L864,224.5" stroke="#14506f" stroke-width="2.2"/><path d="M708.5,174.3 L708.8,175.1 L709.6,175.8 L710.9,176.6 L712.8,177.4 L767.6,197.2 L770.9,198.3 L774.2,199.0 L777.5,199.5 L780.8,199.6 L780.8,204.1 L777.5,204.0 L774.2,203.5 L770.9,202.8 L767.6,201.7 L712.8,181.9 L710.9,181.1 L709.6,180.3 L708.8,179.6 L708.5,178.8Z" fill="#3f6479" stroke="#3f6479" stroke-width="0.4"/><path d="M780.8,199.6 L784.1,199.5 L787.4,199.0 L790.7,198.3 L794.0,197.3 L919.1,152.3 L920.3,151.8 L921.2,151.3 L921.7,150.8 L921.9,150.3 L921.9,154.8 L921.7,155.3 L921.2,155.8 L920.3,156.3 L919.1,156.8 L794.0,201.8 L790.7,202.8 L787.4,203.5 L784.1,204.0 L780.8,204.1Z" fill="#2e4a5a" stroke="#2e4a5a" stroke-width="0.4"/><path d="M712.8,177.4 L710.9,176.6 L709.6,175.8 L708.8,175.1 L708.5,174.3 L708.8,173.6 L709.6,172.8 L710.9,172.0 L712.8,171.3 L831.7,129.2 L836.0,127.9 L840.2,127.0 L844.5,126.4 L848.7,126.2 L852.9,126.4 L857.2,127.0 L861.4,127.9 L865.7,129.2 L919.0,148.3 L920.3,148.8 L921.2,149.3 L921.7,149.8 L921.9,150.3 L921.7,150.8 L921.2,151.3 L920.3,151.8 L919.1,152.3 L794.0,197.3 L790.7,198.3 L787.4,199.0 L784.1,199.5 L780.8,199.6 L777.5,199.5 L774.2,199.0 L770.9,198.3 L767.6,197.2Z" fill="#5d88a2"/><ellipse cx="717.3" cy="180.9" rx="1.3" ry="0.9" fill="#2f4a5a" transform="rotate(22 717.3 180.9)"/><ellipse cx="742" cy="189.8" rx="3.4" ry="0.9" fill="#2f4a5a" transform="rotate(22 742 189.8)"/><circle cx="755.0" cy="193.2" r="0.45" fill="#1e3340"/><circle cx="755.6" cy="195.4" r="0.45" fill="#1e3340"/><circle cx="757.4" cy="194.0" r="0.45" fill="#1e3340"/><circle cx="758.0" cy="196.2" r="0.45" fill="#1e3340"/><circle cx="759.8" cy="194.8" r="0.45" fill="#1e3340"/><circle cx="760.4" cy="197.0" r="0.45" fill="#1e3340"/><circle cx="762.2" cy="195.6" r="0.45" fill="#1e3340"/><circle cx="762.9" cy="197.8" r="0.45" fill="#1e3340"/><circle cx="764.7" cy="196.4" r="0.45" fill="#1e3340"/><circle cx="765.3" cy="198.6" r="0.45" fill="#1e3340"/><circle cx="767.1" cy="197.2" r="0.45" fill="#1e3340"/><circle cx="767.7" cy="199.4" r="0.45" fill="#1e3340"/><circle cx="769.5" cy="198.0" r="0.45" fill="#1e3340"/><circle cx="770.1" cy="200.2" r="0.45" fill="#1e3340"/><defs><clipPath id="clipup"><path d="M726.3,167.6 L836.4,128.7 L910.0,154.1 L798.6,192.3Z"/></clipPath></defs><path d="M726.3,167.6 L836.4,128.7 L910.0,154.1 L798.6,192.3Z" fill="#fdfbfc"/><rect x="704.3" y="151.9" width="220.4" height="12.9" fill="#e8e8e8" clip-path="url(#clipup)"/><ellipse cx="747.6" cy="182.5" rx="9" ry="3.2" fill="#304955" stroke="#5c5048" stroke-width="0.5"/><path d="M870.4,133.4 L886.8,138.7" stroke="#2f4b5b" stroke-width="1.3" stroke-linecap="round"/><circle cx="866.4" cy="131.8" r="0.7" fill="#2f4b5b"/><g stroke="#555" stroke-width="0.8" fill="none"><path d="M737,190.5 Q738.55,203.9 738.5,217.3"/><path d="M748.2,193.4 Q746.8,205.35000000000002 743.8,217.3"/><path d="M808,194.2 Q811.0,223.6 812.4,253"/><path d="M822.8,194.2 Q822.0999999999999,223.6 819.8,253"/><path d="M885.6,169.2 Q887.8499999999999,187.75 888.5,206.3"/><path d="M900,165.7 Q899.3,186.0 897,206.3"/></g><path d="M713.4,229.0Q713.4,228.5 713.9,228.4L722.5,226.4Q725.4,225.7 728.4,225.7L750.4,226.1Q753.4,226.1 756.3,226.8L766.2,229.2Q766.7,229.3 766.7,229.8L766.4,248.5Q766.4,249.5 765.4,249.7L739.3,254.6Q735.4,255.3 731.6,254.1L714.4,248.8Q713.4,248.5 713.4,247.5Z" fill="url(#cbody)" stroke="#5a5a5a" stroke-width="0.5"/><path d="M713.9,228.8 Q733.4,233.0 736.4,232.7 Q739.4,232.5 766.4,229.5" fill="none" stroke="#5c5c5c" stroke-width="0.5" opacity="0.8"/><path d="M726.2,218.9 L751.7,218.9 L751.7,229.0 Q738.9,234.0 726.2,229.0 Z" fill="url(#clens)" stroke="#5a5a5a" stroke-width="0.5"/><ellipse cx="738.9" cy="218.9" rx="12.9" ry="1.9" fill="#5fe2f2" stroke="#7a8a8c" stroke-width="0.5"/><path d="M746.5,240 L800,263" stroke="#14506f" stroke-width="2.2"/><path d="M791.3,264.0Q791.3,263.5 791.8,263.4L800.4,261.4Q803.3,260.7 806.3,260.7L828.3,261.1Q831.3,261.1 834.2,261.8L844.1,264.2Q844.6,264.3 844.6,264.8L844.3,283.5Q844.3,284.5 843.3,284.7L817.2,289.6Q813.3,290.3 809.5,289.1L792.3,283.8Q791.3,283.5 791.3,282.5Z" fill="url(#cbody)" stroke="#5a5a5a" stroke-width="0.5"/><path d="M791.8,263.8 Q811.3,268.0 814.3,267.7 Q817.3,267.5 844.3,264.5" fill="none" stroke="#5c5c5c" stroke-width="0.5" opacity="0.8"/><path d="M804.1,253.9 L829.6,253.9 L829.6,264.0 Q816.8,269.0 804.1,264.0 Z" fill="url(#clens)" stroke="#5a5a5a" stroke-width="0.5"/><ellipse cx="816.8" cy="253.9" rx="12.9" ry="1.9" fill="#5fe2f2" stroke="#7a8a8c" stroke-width="0.5"/><path d="M863.5,217.5Q863.5,217.0 864.0,216.9L872.6,214.9Q875.5,214.2 878.5,214.2L900.5,214.6Q903.5,214.6 906.4,215.3L916.3,217.7Q916.8,217.8 916.8,218.3L916.5,237.0Q916.5,238.0 915.5,238.2L889.4,243.1Q885.5,243.8 881.7,242.6L864.5,237.3Q863.5,237.0 863.5,236.0Z" fill="url(#cbody)" stroke="#5a5a5a" stroke-width="0.5"/><path d="M864.0,217.3 Q883.5,221.5 886.5,221.2 Q889.5,221.0 916.5,218.0" fill="none" stroke="#5c5c5c" stroke-width="0.5" opacity="0.8"/><path d="M876.3,207.4 L901.8,207.4 L901.8,217.5 Q889.0,222.5 876.3,217.5 Z" fill="url(#clens)" stroke="#5a5a5a" stroke-width="0.5"/><ellipse cx="889.0" cy="207.4" rx="12.9" ry="1.9" fill="#5fe2f2" stroke="#7a8a8c" stroke-width="0.5"/><g fill="none" stroke="#000" stroke-width="2" stroke-linejoin="miter"><path d="M344,242 L344,218 L478,218"/><path d="M840,137 L840,102 L987.5,102"/><path d="M912,231 L912,196 L1147.5,196"/><path d="M908,366 L908,327.6 L1139.5,327.6"/><path d="M927,442 L927,402.8 L1035,402.8"/><path d="M109,504.5 L109,569 L239.5,569"/><path d="M623,593 L623,668 L458,668"/></g><text x="381" y="202.8" font-size="34" fill="#000">工控机</text><text x="921" y="94" font-size="34" fill="#000">目标</text><text x="1081" y="186" font-size="34" fill="#000">相机</text><text x="1070" y="318" font-size="34" fill="#000">相机</text><text x="962" y="393" font-size="34" fill="#000">对象</text><text x="138" y="556.5" font-size="34" fill="#000">显示器</text><text x="413.9" y="655.5" font-size="34" fill="#000"><tspan textLength="72" lengthAdjust="spacingAndGlyphs">UVW</tspan><tspan x="486.4">平台</tspan></text><text x="0" y="0" font-size="52" fill="#000" fill-opacity="0.055" transform="translate(38.8,245.8) rotate(-22)">新西旺自动化</text><text x="0" y="0" font-size="52" fill="#000" fill-opacity="0.055" transform="translate(713.4,377) rotate(-22)">新西旺自动化</text><text x="0" y="0" font-size="52" fill="#000" fill-opacity="0.055" transform="translate(110.5,690) rotate(-22)">新西旺自动化</text></svg></body></html>
